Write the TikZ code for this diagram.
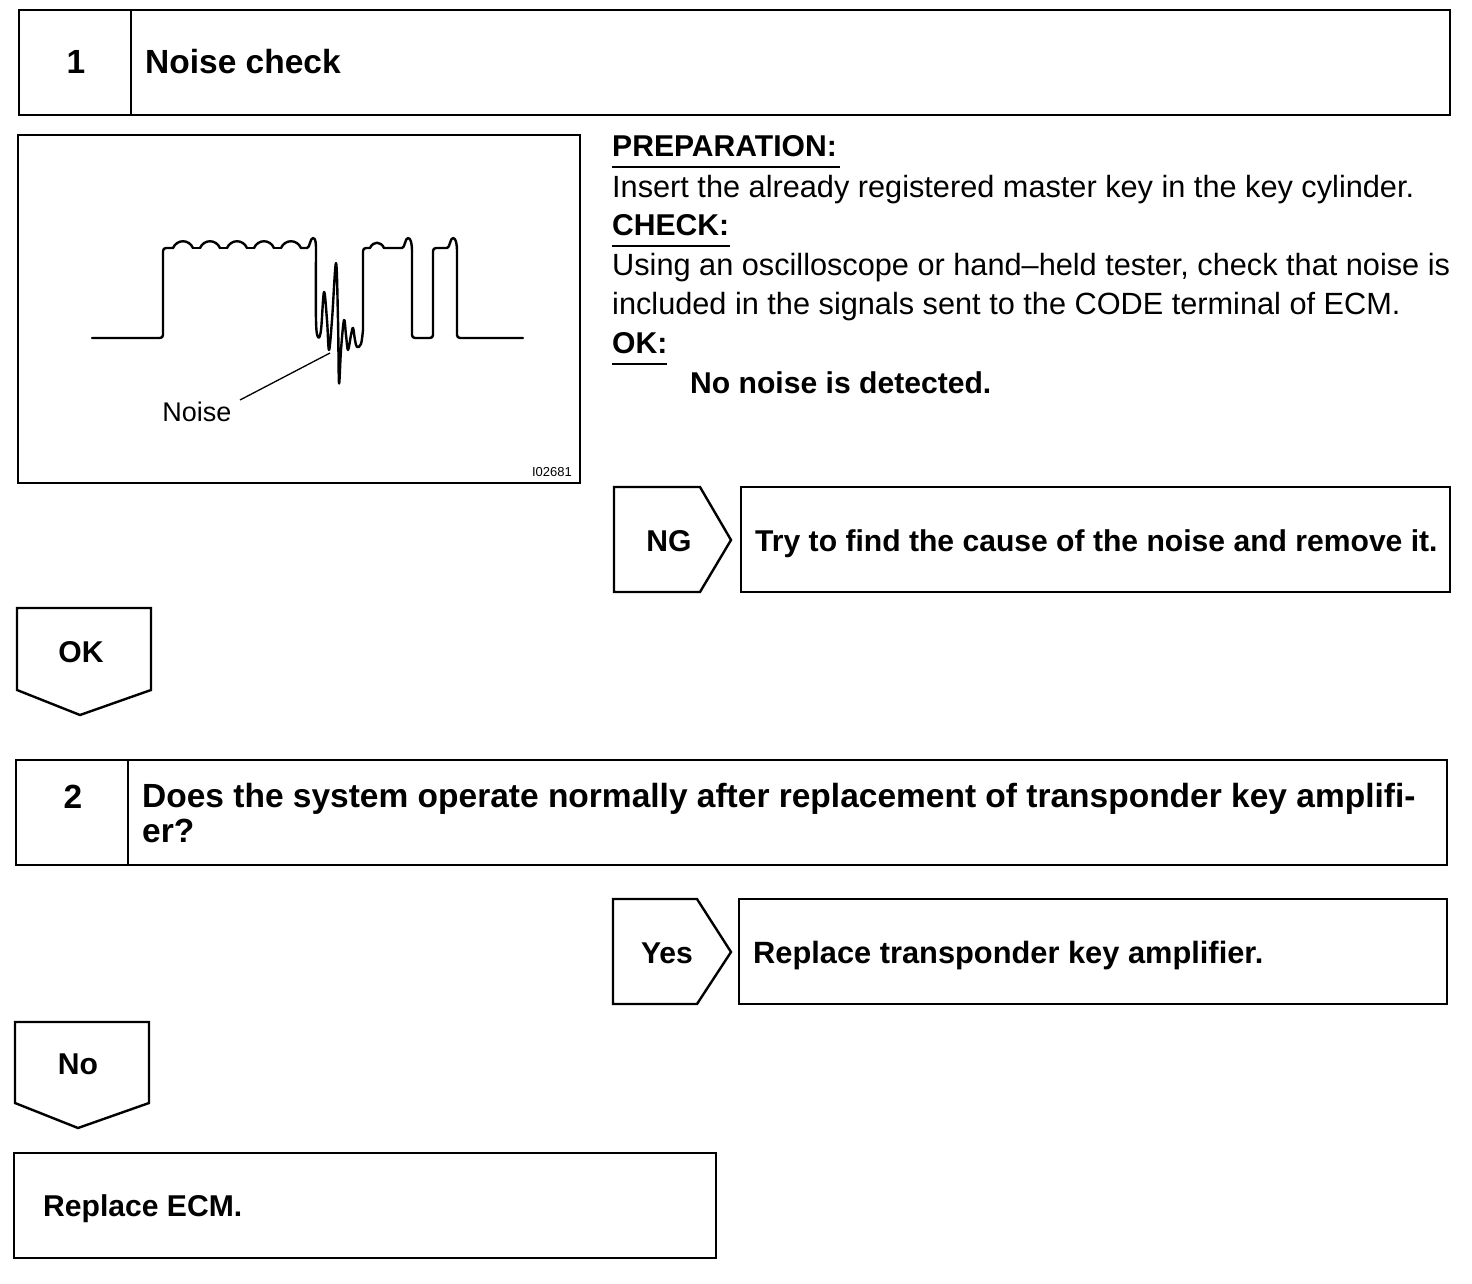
\documentclass[tikz,border=0pt]{standalone}
\usepackage{fontspec}
\setmainfont{Liberation Sans}
\newcommand\bodyfnt{\fontsize{30.7}{39}\selectfont}
\newcommand\boldfnt{\fontsize{30.1}{30}\selectfont\bfseries}
\newcommand\headfnt{\fontsize{33.5}{33}\selectfont\bfseries}
\begin{document}
\begin{tikzpicture}[x=1pt,y=-1pt,
  box/.style={draw,line width=2.4pt,line join=miter},
  wave/.style={draw,line width=2.4pt,line join=round,line cap=round},
  txt/.style={anchor=base west,inner sep=0pt,font=\bodyfnt},
  btxt/.style={anchor=base west,inner sep=0pt,font=\boldfnt},
  htxt/.style={anchor=base west,inner sep=0pt,font=\headfnt},
  ctxt/.style={anchor=base,inner sep=0pt,font=\boldfnt},
  uline/.style={draw,line width=1.6pt}]
\useasboundingbox (0,0) rectangle (1472,1284);
\fill[white] (0,0) rectangle (1472,1284);

% ---- Step 1 header
\draw[box] (19,10) rectangle (1450,115);
\draw[box] (131,10) -- (131,115);
\node[ctxt,font=\headfnt] (num1) at (76,74) {1};
\node[htxt] (title1) at (145,74) {Noise check};

% ---- Figure
\draw[box] (18,135) rectangle (580,483);
\node[anchor=base east,inner sep=0pt,font=\fontsize{13}{13}\selectfont] (figid) at (572,476) {I02681};
\draw[wave,rounded corners=3pt] (92,338) -- (163,338) -- (163,248) -- (173,248);
\foreach \c in {183,210,237,264,291}{
  \draw[wave] (\c-10,248) .. controls (\c-6,239) and (\c+6,239) .. (\c+10,248);
}
\draw[wave] (193,248) -- (200,248);
\draw[wave] (220,248) -- (227,248);
\draw[wave] (247,248) -- (254,248);
\draw[wave] (274,248) -- (281,248);
\draw[wave] (301,248) -- (307,248) .. controls (310,248) and (310,238) .. (313,238) .. controls (316,238) and (316,244) .. (316,252);
\draw[wave] plot[smooth,tension=0.6] coordinates {(316,252) (316,320) (318,337) (321,330) (324,292) (327,320) (329,350) (332,320) (336,263) (338,320) (339,383) (341,350) (344,320) (346,335) (348,350) (351,335) (353,328) (355,340) (357,347) (361,344) (363,330)};
\draw[wave,rounded corners=3pt] (363,330) -- (363,248) -- (370,248);
\draw[wave] (370,248) .. controls (373,241) and (381,241) .. (384,248) -- (402,248) .. controls (405,248) and (405,238) .. (408,238) .. controls (411,238) and (412,244) .. (412,252);
\draw[wave,rounded corners=3pt] (412,252) -- (412,338) -- (433,338) -- (433,248) -- (447,248);
\draw[wave] (447,248) .. controls (450,248) and (450,238) .. (453,238) .. controls (456,238) and (457,244) .. (457,252);
\draw[wave,rounded corners=3pt] (457,252) -- (457,338) -- (523,338);
\coordinate (noisept) at (330,353);
\node[anchor=base,inner sep=0pt,font=\fontsize{27}{27}\selectfont] (noiselbl) at (197,421) {Noise};
\coordinate (lblend) at (240,400);
\draw[line width=1.3pt] (noisept) -- (lblend);

% ---- Text block
\node[btxt] (prep) at (612,157) {PREPARATION:};
\draw[uline] (612,167) -- (840,167);
\node[txt] (prept) at (612,197) {Insert the already registered master key in the key cylinder.};
\node[btxt] (chk) at (612,236) {CHECK:};
\draw[uline] (612,246) -- (730,246);
\node[txt] (chk1) at (612,275) {Using an oscilloscope or hand--held tester, check that noise is};
\node[txt] (chk2) at (612,314) {included in the signals sent to the CODE terminal of ECM.};
\node[btxt] (ok) at (612,353) {OK:};
\draw[uline] (612,364) -- (667,364);
\node[btxt] (okt) at (690,393) {No noise is detected.};

% ---- NG branch
\draw[box] (614,487) -- (700,487) -- (731,540) -- (700,592) -- (614,592) -- cycle;
\node[ctxt] (ng) at (669,551) {NG};
\draw[box] (741,487) rectangle (1450,592);
\node[btxt] (ngt) at (755,551) {Try to find the cause of the noise and remove it.};

% ---- OK arrow
\draw[box] (17,608) -- (151,608) -- (151,690) -- (80,715) -- (17,690) -- cycle;
\node[ctxt] (okarrow) at (81,662) {OK};

% ---- Step 2 header
\draw[box] (16,760) rectangle (1447,865);
\draw[box] (128,760) -- (128,865);
\node[ctxt,font=\headfnt] (num2) at (73,808) {2};
\node[htxt] (q1) at (142,807) {Does the system operate normally after replacement of transponder key amplifi-};
\node[htxt] (q2) at (142,842) {er?};

% ---- Yes branch
\draw[box] (613,899) -- (697,899) -- (731,952) -- (697,1004) -- (613,1004) -- cycle;
\node[ctxt] (yes) at (667,963) {Yes};
\draw[box] (739,899) rectangle (1447,1004);
\node[btxt,font=\fontsize{30.8}{30}\selectfont\bfseries] (yest) at (753,963) {Replace transponder key amplifier.};

% ---- No arrow
\draw[box] (15,1022) -- (149,1022) -- (149,1103) -- (78,1128) -- (15,1103) -- cycle;
\node[ctxt] (noarrow) at (78,1074) {No};

% ---- Final box
\draw[box] (14,1153) rectangle (716,1258);
\node[btxt] (ecm) at (43,1216) {Replace ECM.};
\end{tikzpicture}
\end{document}
